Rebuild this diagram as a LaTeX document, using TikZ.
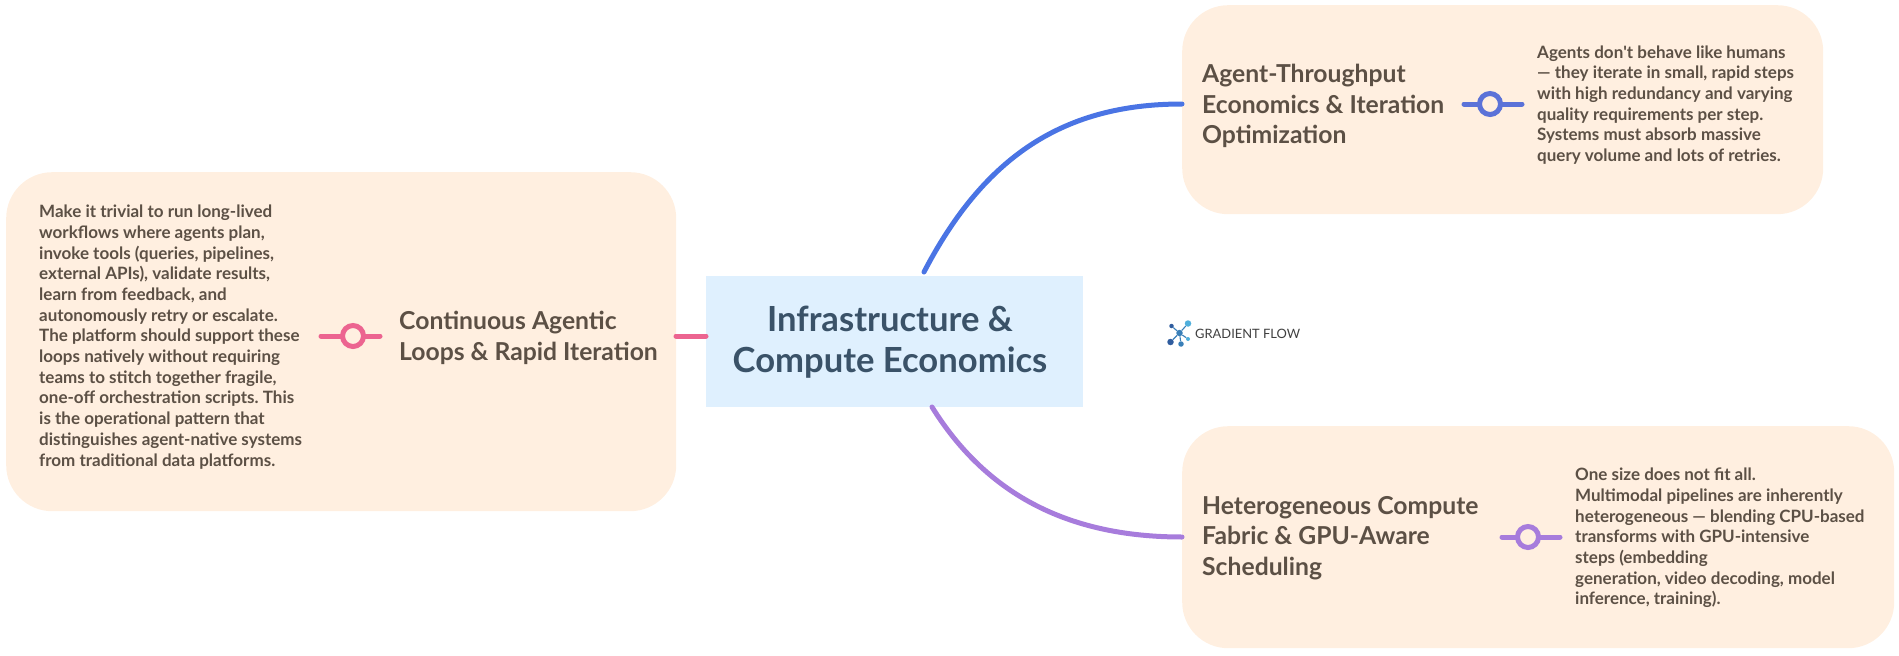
\documentclass[tikz,border=0pt]{standalone}
\usepackage{fontspec}
\setmainfont{Lato}
\usetikzlibrary{calc}
\frenchspacing
\definecolor{panelfill}{HTML}{FFEFE0}
\definecolor{rootfill}{HTML}{DFF0FE}
\definecolor{roottext}{HTML}{3A5268}
\definecolor{bodytext}{HTML}{5C5045}
\definecolor{pinkline}{HTML}{EC6490}
\definecolor{blueline}{HTML}{5B72D8}
\definecolor{blueedge}{HTML}{4A74E4}
\definecolor{purpleline}{HTML}{A77CDC}
\definecolor{logodark}{HTML}{2F5C9E}
\definecolor{logomid}{HTML}{3A7FB8}
\definecolor{logolight}{HTML}{4FAFDC}
\tikzset{
  panel/.style={fill=panelfill,rounded corners=46pt,inner sep=0pt,anchor=north west},
  rootbox/.style={fill=rootfill,inner sep=0pt,anchor=north west,minimum width=377pt,minimum height=131pt},
  roottitle/.style={text=roottext,align=center,inner sep=0pt,font=\bfseries\fontsize{34.6}{41.5}\selectfont},
  headtext/.style={text=bodytext,align=left,anchor=west,inner sep=0pt,font=\bfseries\fontsize{24.7}{30.5}\selectfont},
  notetext/.style={text=bodytext,align=left,anchor=west,inner sep=0pt,font=\bfseries\fontsize{17}{20.7}\selectfont},
  knob/.style={circle,draw=#1,fill=panelfill,line width=5pt,minimum size=21pt,inner sep=0pt},
  stem/.style={line width=5pt,line cap=round},
  edge/.style={line width=5pt,line cap=round},
  dot/.style={circle,inner sep=0pt,minimum size=#1},
}
\begin{document}
\begin{tikzpicture}[x=1pt,y=-1pt]
  \useasboundingbox (0,0) rectangle (1899,656);
  % panels
  \node[panel,minimum width=670pt,minimum height=339pt] (leftpanel) at (6,172) {};
  \node[panel,minimum width=641pt,minimum height=209pt] (toppanel) at (1182,5) {};
  \node[panel,minimum width=712pt,minimum height=222pt] (lowpanel) at (1182,426) {};
  \node[rootbox] (root) at (706,276) {};
  \node[roottitle] (roottitle) at (890,342) {Infrastructure \&\\Compute Economics};
  % branch labels
  \node[headtext] (lefthead) at (399,338) {Continuous Agentic\\Loops \& Rapid Iteration};
  \node[headtext] (tophead) at (1202,106) {Agent-Throughput\\Economics \& Iteration\\Optimization};
  \node[headtext] (lowhead) at (1202,538) {Heterogeneous Compute\\Fabric \& GPU-Aware\\Scheduling};
  % notes
  \node[notetext] (leftnote) at (39,337) {Make it trivial to run long-lived\\workflows where agents plan,\\invoke tools (queries, pipelines,\\external APIs), validate results,\\learn from feedback, and\\autonomously retry or escalate.\\The platform should support these\\loops natively without requiring\\teams to stitch together fragile,\\one-off orchestration scripts. This\\is the operational pattern that\\distinguishes agent-native systems\\from traditional data platforms.};
  \node[notetext] (topnote) at (1537,105) {Agents don\textquotesingle t behave like humans\\— they iterate in small, rapid steps\\with high redundancy and varying\\quality requirements per step.\\Systems must absorb massive\\query volume and lots of retries.};
  \node[notetext] (lownote) at (1575,538) {One size does not fit all.\\Multimodal pipelines are inherently\\heterogeneous — blending CPU-based\\transforms with GPU-intensive\\steps (embedding\\generation, video decoding, model\\inference, training).};
  % knobs
  \coordinate (leftstema) at (321,336);
  \coordinate (leftstemb) at (380,336);
  \coordinate (topstema) at (1464,104);
  \coordinate (topstemb) at (1522,104);
  \coordinate (lowstema) at (1502,537);
  \coordinate (lowstemb) at (1560,537);
  \draw[stem,pinkline] (leftstema) -- (leftstemb);
  \draw[stem,blueline] (topstema) -- (topstemb);
  \draw[stem,purpleline] (lowstema) -- (lowstemb);
  \node[knob=pinkline] (leftknob) at (353,336) {};
  \node[knob=blueline] (topknob) at (1490,104) {};
  \node[knob=purpleline] (lowknob) at (1528,537) {};
  % edges
  \coordinate (topend) at (1182,104);
  \coordinate (lowend) at (1182,537);
  \coordinate (topstart) at (924,272);
  \coordinate (lowstart) at (932,407);
  \coordinate (leftend) at (676,336);
  \coordinate (rootleft) at (706,336);
  \draw[edge,pinkline] (leftend) -- (rootleft);
  \draw[edge,blueedge] (topstart) .. controls (985,155) and (1065,104) .. (topend);
  \draw[edge,purpleline] (lowstart) .. controls (985,492) and (1065,537) .. (lowend);
  % logo
  \node[dot=6.5pt,fill=logomid] (lgmid) at (1179.5,333) {};
  \node[dot=6.5pt,fill=logolight] (lga) at (1188,323.5) {};
  \node[dot=4.5pt,fill=logodark] (lgb) at (1171.5,326) {};
  \node[dot=6.5pt,fill=logodark] (lgc) at (1170.5,342) {};
  \node[dot=5.5pt,fill=logomid] (lgd) at (1181,344) {};
  \node[dot=4pt,fill=logolight] (lge) at (1188,339) {};
  \foreach \tip in {lga,lgb,lgc,lgd,lge}
    \draw[line width=1.1pt,logomid] (lgmid) -- (\tip);
  \node[anchor=west,inner sep=0pt,text=black!75,font=\fontsize{12.9}{14}\selectfont] (lgtext) at (1195,333.5) {GRADIENT FLOW};
\end{tikzpicture}
\end{document}
